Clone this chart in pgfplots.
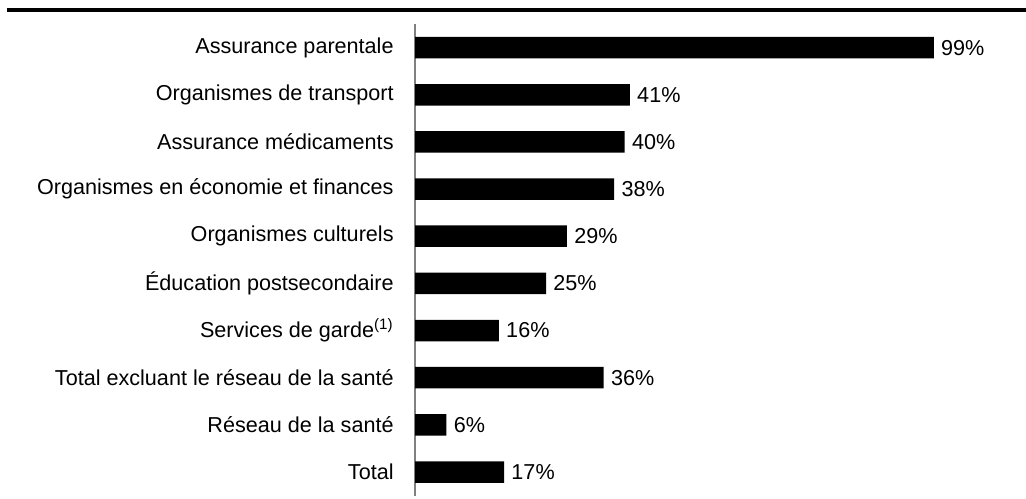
\documentclass[border=0pt]{standalone}
\usepackage{pgfplots}
\pgfplotsset{compat=1.18}
\usepackage{fontspec}
\setmainfont{Liberation Sans}
\begin{document}
\begin{tikzpicture}
\useasboundingbox (0pt,0pt) rectangle (513pt,249pt);
\draw[line width=2pt] (3.5pt,244pt) -- (513pt,244pt);
\begin{axis}[
  at={(207.5pt,1.2pt)}, anchor=south west,
  scale only axis,
  width=288.2pt, height=235.8pt,
  xbar, bar width=10.75pt,
  xmin=0, xmax=110,
  ymin=-0.5, ymax=9.5,
  y dir=reverse,
  axis x line=none,
  axis y line*=left,
  y axis line style={draw=gray, line width=0.6pt},
  ytick={0,...,9},
  major tick length=0pt,
  yticklabels={Assurance parentale, Organismes de transport, Assurance médicaments, Organismes en économie et finances, Organismes culturels, Éducation postsecondaire, {Services de garde\textsuperscript{(1)}}, Total excluant le réseau de la santé, Réseau de la santé, Total},
  yticklabel style={font=\fontsize{10.8}{13}\selectfont, inner sep=0pt, anchor=east, xshift=-10.5pt},
  /pgf/number format/assume math mode=true,
  nodes near coords={\pgfmathprintnumber{\pgfplotspointmeta}\%},
  every node near coord/.append style={font=\fontsize{10.8}{13}\selectfont, inner sep=0pt, anchor=west, xshift=3.5pt, black},
  clip=false,
]
\addplot[fill=black, draw=none] coordinates {
(99,0) (41,1) (40,2) (38,3) (29,4) (25,5) (16,6) (36,7) (6,8) (17,9)
};
\end{axis}
\end{tikzpicture}
\end{document}
